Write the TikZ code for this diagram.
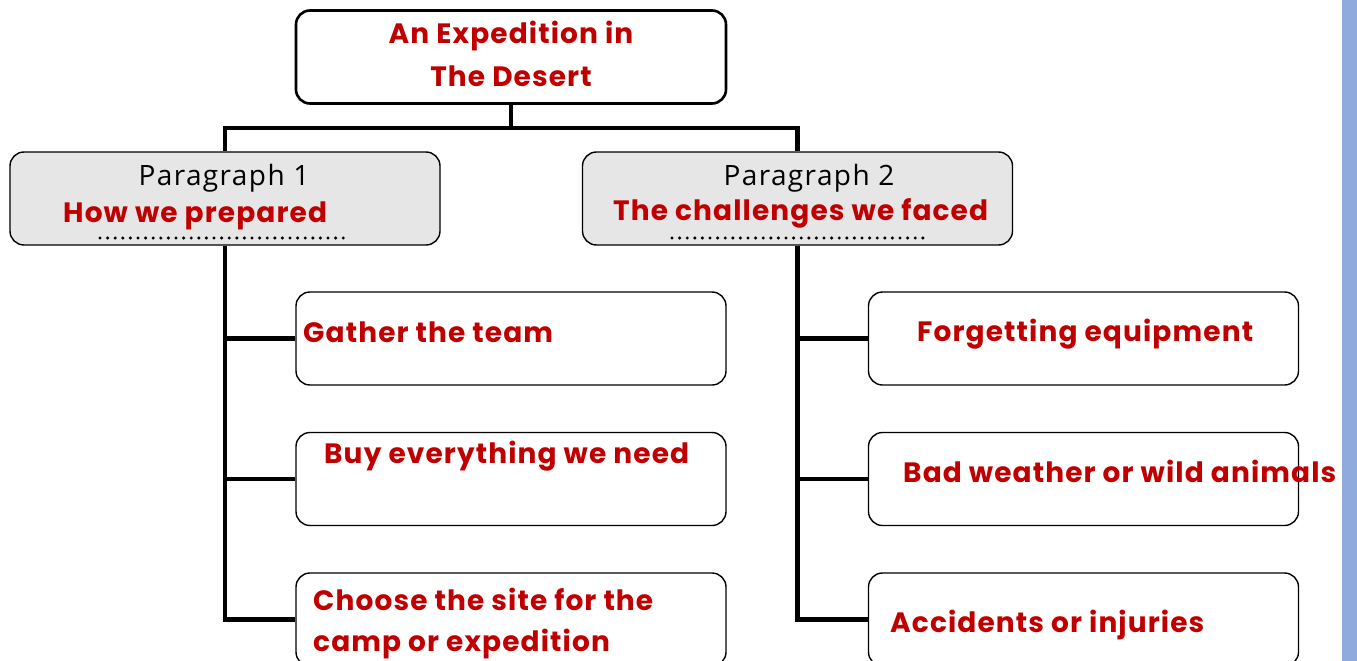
\documentclass[tikz,border=0pt]{standalone}
\usepackage{fontspec}
\setmainfont{Open Sans}
\newfontfamily\handfont[LetterSpace=4]{Poppins}
\newfontfamily\labelfont[LetterSpace=5]{Open Sans}
\usetikzlibrary{positioning}

\definecolor{textred}{HTML}{C00000}
\definecolor{boxgray}{HTML}{E6E6E6}
\definecolor{sidebar}{HTML}{8FAADC}

\tikzset{
  box/.style={draw, rounded corners=14pt, minimum width=430pt, minimum height=93pt, inner sep=0pt, line width=1.4pt},
  headbox/.style={box, fill=boxgray},
  redtext/.style={text=textred, font=\handfont\bfseries\fontsize{28}{34}\selectfont, inner sep=0pt},
  paratext/.style={font=\labelfont\fontsize{28}{32}\selectfont, inner sep=0pt},
  link/.style={line width=4.2pt},
  dotline/.style={line width=3.4pt, line cap=round, dash pattern=on 0pt off 7.6pt}
}

\begin{document}
\begin{tikzpicture}[x=1pt, y=-1pt]

\useasboundingbox (0,0) rectangle (1357,661);
\fill [sidebar] (1342,0) rectangle (1357,661);

% title
\node [box, line width=2.6pt] (title) at (511,57) {};
\node [redtext, anchor=base] (title1) at (511,44) {An Expedition in};
\node [redtext, anchor=base] (title2) at (511,86) {The Desert};

% paragraph heads
\node [headbox] (para1) at (225,198.5) {};
\node [headbox] (para2) at (797.5,198.5) {};

\node [paratext, anchor=base] (para1label) at (224,185) {Paragraph 1};
\node [redtext, anchor=base west] (para1text) at (63,222) {How we prepared};
\node [paratext, anchor=base] (para2label) at (809,185) {Paragraph 2};
\node [redtext, anchor=base west] (para2text) at (613,220) {The challenges we faced};

\draw [dotline] (100,238) -- (350,238);
\draw [dotline] (672,238) -- (923,238);

% left column
\node [box] (gather) at (511,338.5) {};
\node [box] (buy) at (511,479) {};
\node [box] (choose) at (511,619.5) {};

\node [redtext, anchor=base west] (gathertext) at (303,342) {Gather the team};
\node [redtext, anchor=base west] (buytext) at (324,463) {Buy everything we need};
\node [redtext, anchor=base west] (choosetext1) at (313,610) {Choose the site for the};
\node [redtext, anchor=base west] (choosetext2) at (313,651) {camp or expedition};

% right column
\node [box] (forget) at (1083.5,338.5) {};
\node [box] (weather) at (1083.5,479) {};
\node [box] (accident) at (1083.5,619.5) {};

\node [redtext, anchor=base west] (forgettext) at (917,341) {Forgetting equipment};
\node [redtext, anchor=base west] (weathertext) at (903,482) {Bad weather or wild animals};
\node [redtext, anchor=base west] (accidenttext) at (890,632) {Accidents or injuries};

% connectors
\draw [link] (title.south) -- ++(0,23) -| (para1.north);
\draw [link] (title.south) -- ++(0,23) -| (para2.north);

\draw [link] (para1.south) |- (gather.west);
\draw [link] (para1.south) |- (buy.west);
\draw [link] (para1.south) |- (choose.west);

\draw [link] (para2.south) |- (forget.west);
\draw [link] (para2.south) |- (weather.west);
\draw [link] (para2.south) |- (accident.west);

\end{tikzpicture}
\end{document}
